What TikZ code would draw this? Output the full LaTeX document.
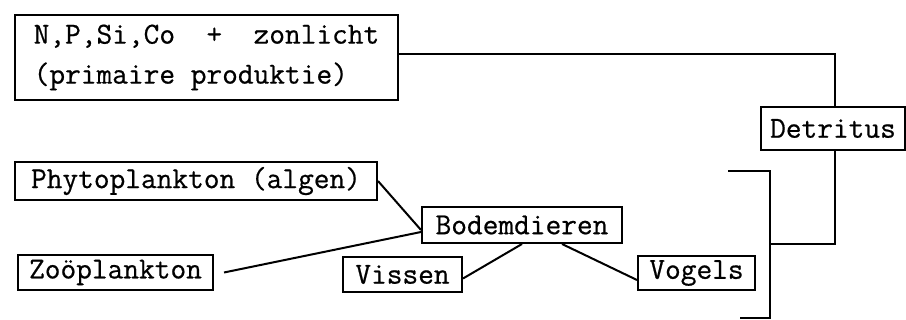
\documentclass[tikz,border=0pt]{standalone}
\usepackage{fontspec}
\newfontfamily\twfont{Latin Modern Mono}[FakeBold=0.6]
\begin{document}
\begin{tikzpicture}[x=1pt,y=-1pt,
  box/.style={draw, line width=2pt, inner sep=0pt, font=\twfont\fontsize{30.5}{40}\selectfont},
  conn/.style={line width=2pt}]
\useasboundingbox (0,0) rectangle (906,320);
\node[box, minimum width=383pt, minimum height=85pt, align=left] (top) at (206.5,57.5) {N,P,Si,Co~~+~~zonlicht\\(primaire produktie)};
\node[box, minimum width=144pt, minimum height=43pt] (det) at (833,128.5) {Detritus};
\node[box, minimum width=362pt, minimum height=38pt] (phyto) at (196,181) {Phytoplankton (algen)};
\node[box, minimum width=200pt, minimum height=36pt] (bodem) at (522,225) {Bodemdieren};
\node[box, minimum width=195pt, minimum height=35pt] (zoo) at (115.5,272.5) {Zoöplankton};
\node[box, minimum width=119pt, minimum height=35pt] (vis) at (402.5,274.5) {Vissen};
\node[box, minimum width=117pt, minimum height=34pt] (vog) at (696.5,273) {Vogels};
\coordinate (j1) at (770,244);
\coordinate (t1) at (728,171);
\coordinate (t2) at (770,171);
\coordinate (b2) at (770,318);
\coordinate (b1) at (740,318);
\draw[conn] ([yshift=3pt]top.east) -| ([xshift=2pt]det.north);
\draw[conn] ([xshift=2pt]det.south) |- (j1);
\draw[conn] (t1) -- (t2) -- (b2) -- (b1);
\draw[conn] (phyto.east) -- ([yshift=-5pt]bodem.west);
\draw[conn] ([xshift=10pt]zoo.east) -- ([yshift=-7pt]bodem.west);
\draw[conn] ([yshift=-4pt]vis.east) -- (bodem.south);
\draw[conn] ([xshift=40pt]bodem.south) -- ([yshift=-7pt]vog.west);
\end{tikzpicture}
\end{document}
